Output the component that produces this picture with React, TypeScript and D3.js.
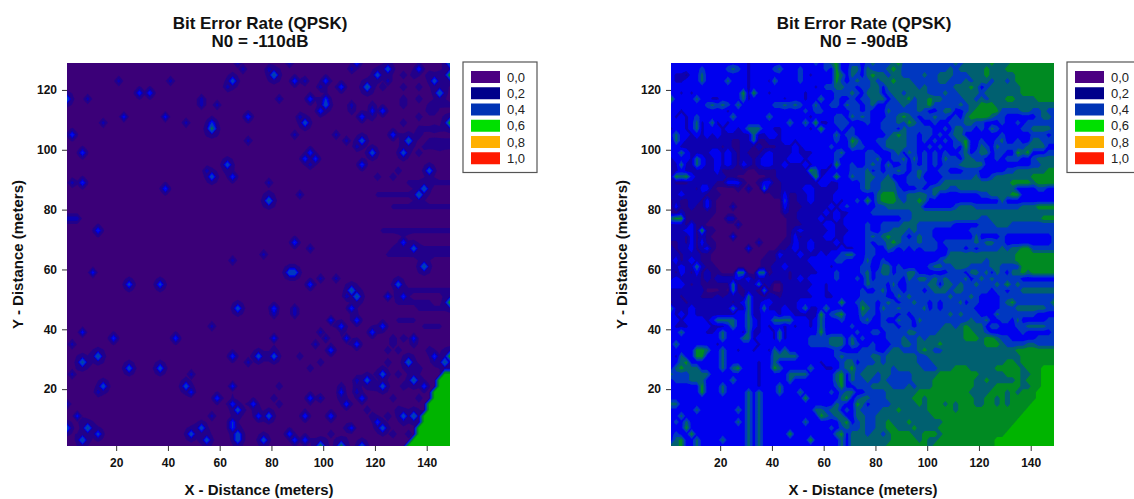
import React, { useEffect, useRef } from 'react';
import * as d3 from 'd3';

// legend
const legendLabels = ['0,0', '0,2', '0,4', '0,6', '0,8', '1,0'];
const legendColors = ['#4b0082', '#00008b', '#0033b4', '#00e000', '#ffb000', '#ff1a00'];

// colours of the filled bands in the maps, low to high
const bandColors = ['#3a0078', '#24008a', '#0a00b0', '#0000ee', '#0038c0', '#006070', '#008a22', '#00b400'];
const thresholds110 = [0.2, 0.7, 1.2, 1.8, 3.5, 4.5, 6.5];
const thresholds90 = [0.3, 1.3, 2.3, 3.5, 4.5, 5.5, 6.5];

const xTicks = [20, 40, 60, 80, 100, 120, 140];
const yTicks = [20, 40, 60, 80, 100, 120];

// N0 = -90dB: band, every 2 m, from y = 129 down to y = 1
const rows90 = [
  '33333 33333 33333 23333 33333 33343 45633 44345 44456 44444 44444 54555 55655 56666 66666',
  '33333 34333 34543 23333 45333 43333 43633 55354 44565 44444 44445 45555 56555 66666 66666',
  '32213 35333 33333 23333 33333 43233 33653 54356 55455 44445 44555 44455 56555 55666 66666',
  '32233 35333 35333 23332 53333 43333 33643 45445 45565 55444 44554 44545 55455 45666 66666',
  '33333 33333 33333 23333 33333 33323 44554 43445 53555 55545 44444 55565 34555 55566 66666',
  '33232 33333 33336 26332 33333 32333 33444 54355 53455 45555 44454 45555 45555 55566 66666',
  '63333 53322 33335 23333 33233 32335 33433 43445 55345 56455 65544 44554 54555 66555 56666',
  '33333 33454 54353 33333 44545 43353 34435 44345 33444 54455 64444 45455 66655 55555 55555',
  '33233 33333 32333 33333 33333 34344 33333 44343 33544 44454 33455 33456 66664 44455 44544',
  '32323 43333 33533 33335 33333 33233 33443 54543 33445 65434 45443 43566 66544 33333 34554',
  '33323 52352 32333 33333 33353 35362 23444 33343 34445 46543 34334 44554 43334 33434 44444',
  '23323 52333 23323 55533 22333 33236 33343 43333 34443 54444 43343 55443 43543 33344 55554',
  '35332 32323 22222 25223 32333 33333 33534 43333 33456 54434 43434 55333 33334 33333 44434',
  '25322 22222 22112 25112 22332 33333 33433 65333 44555 54434 34343 45633 43345 33433 55444',
  '33222 22222 12112 21211 12223 23333 34333 54433 34555 54433 43433 43633 54354 44445 55533',
  '33532 22233 23212 11123 22223 22233 33453 33344 33345 35434 34343 34534 55344 33656 33344',
  '23332 53223 23212 21233 22233 32333 33433 33344 53344 53534 34354 43554 43343 44433 45555',
  '22522 53223 23213 21233 22322 23233 32633 43345 43533 43434 34344 45555 53333 33333 44555',
  '22322 22223 11111 00111 12222 22652 23333 44453 43445 43454 33443 33444 33333 44555 55566',
  '26563 22222 21100 00001 12222 22262 33633 54455 44533 34453 33344 44445 33455 55555 66666',
  '21112 22221 13331 00133 11222 22223 32233 33454 45553 34444 33455 55555 55555 56666 56666',
  '22222 13310 00010 20051 11222 23322 22233 33454 45554 33343 45554 45555 55555 55333 34433',
  '22322 22111 00000 00000 11311 22322 22333 33333 56664 45555 45333 33333 44555 56633 33333',
  '12112 21310 00000 00000 00411 22322 22323 34363 56665 45565 33333 33333 33335 33333 33333',
  '13112 11310 00200 00000 00311 12222 23234 33333 44555 55553 33333 45554 44444 44455 56666',
  '11211 11110 00000 00000 00211 22222 32322 33334 44444 44555 55555 55555 55555 55555 55555',
  '56611 11100 02200 00000 00011 22223 22323 33333 33333 44555 55555 55555 44555 55555 55666',
  '22213 11000 00020 00000 00011 12222 33223 33343 34444 55544 44444 33333 44455 54444 44444',
  '22233 16110 00000 00000 00012 32222 23222 33343 34455 54544 43333 33344 44444 44444 44444',
  '22213 12100 00300 00000 00013 12222 33223 33345 45655 43454 43333 33335 33334 33333 33334',
  '11213 13110 00000 00200 00113 22322 22323 33343 44565 44454 44344 44445 45544 33333 33334',
  '21223 12310 00000 30000 01123 22322 22232 23344 33543 43434 44334 44343 44445 45566 44444',
  '22122 21100 00000 00001 13222 32223 23345 53344 33333 33333 33335 55555 55555 55666 66666',
  '23123 21100 00000 00011 12222 22333 33443 33353 34333 33333 33455 55555 54555 55666 66666',
  '22322 52110 00000 00011 22322 22233 32333 33443 35534 33333 45544 55544 44554 44466 66666',
  '21321 31211 00055 00550 22212 22223 33433 33453 45534 45533 33334 44355 45354 35565 66666',
  '23222 21212 22232 31222 22212 32333 33433 34353 44444 35455 45454 44534 54544 44433 33333',
  '33321 21111 11512 22512 00222 22233 23333 33354 44353 34444 55355 45445 44454 64544 44444',
  '22222 22000 10511 22051 00222 22333 23333 33433 45344 34443 45554 55444 44344 34455 55555',
  '22122 21112 12221 52212 21222 22233 22333 33444 44335 45444 44445 44454 33334 44444 44444',
  '12212 22222 22123 52233 22222 33333 33363 34544 34543 44544 34344 45344 33334 56444 44446',
  '52223 22222 22522 52252 22322 35223 53333 33654 35445 44445 34344 44443 33334 44555 55544',
  '32323 22222 22233 52233 32332 22226 34563 33544 34443 43444 44445 45444 33354 44444 43333',
  '33233 33235 55533 53233 55553 33235 33343 33453 34335 44354 44444 44454 45334 43533 33344',
  '32223 33322 23533 53232 33232 33235 33333 43333 34443 44344 44455 45655 53443 33445 55544',
  '33533 33223 53332 52233 25233 33336 33333 34334 43444 45544 44555 55665 54333 33343 33334',
  '33333 33333 53335 52333 25233 33444 45553 53433 33444 54454 55555 55666 56654 43333 34444',
  '35333 33332 33333 33233 33333 33444 45553 54334 33344 55455 55655 55555 56665 44445 54444',
  '33333 66533 53323 32332 53533 33333 33433 33444 33455 44456 54455 55555 55555 55666 66666',
  '32533 66333 53333 33333 55555 33333 33454 44445 54555 55544 55555 55555 55555 55566 66666',
  '33563 33333 53333 33233 53333 33332 33345 53444 54555 55544 45555 55555 55555 66566 66666',
  '35655 53333 53563 33233 65333 33533 22345 64455 55545 55554 44555 66655 55566 66656 66777',
  '54445 55533 33333 33233 33355 55333 33563 54555 45544 44555 55666 66666 55555 66655 66777',
  '34445 55333 33533 33233 33353 33333 33563 54454 45444 44555 56666 66665 56555 55656 66777',
  '33333 36333 53333 33233 35333 33333 33463 34445 55544 45455 56666 66665 55566 66655 66777',
  '33333 36333 53333 53533 35333 53333 34345 53344 44555 55566 66666 66655 55666 56566 67777',
  '33333 33333 33333 53533 33333 36333 33356 34554 44555 55665 66666 66665 56656 56666 67777',
  '55333 33333 33333 53533 33333 33333 33543 36534 44455 55565 66656 56665 56656 56666 77777',
  '33333 53333 33353 53533 33333 33355 45534 35444 45556 55555 66666 56666 66666 66667 77777',
  '33533 33333 33333 53533 33333 33336 54553 35544 55555 55555 56666 66666 66666 66677 77777',
  '34353 33333 33353 53533 33333 35333 33356 34544 55655 56555 55566 66666 66666 66777 77777',
  '33363 33333 33333 53533 33333 33333 34345 44544 55665 55655 55666 66666 66666 67777 77777',
  '34336 33333 33333 53533 33363 33333 33563 55545 54566 66556 66566 66666 66666 77777 77777',
  '35633 53333 53333 53533 33333 33633 33353 55555 55566 66656 55666 66666 66677 77777 77777',
  '55633 53333 33333 53533 33333 33333 33353 55555 55666 66666 56666 66666 66677 77777 77777',
];

// N0 = -110dB: isolated spots [x, y, band] on the 2 m grid
const spots110: [number, number, number][] = [
  [1, 117, 3], [9, 117, 1], [21, 123, 1], [29, 119, 2], [33, 119, 2], [41, 123, 1], [23, 111, 1.6], [15, 109, 1],
  [39, 111, 1.6], [47, 109, 1], [3, 105, 2], [7, 99, 2], [7, 89, 2], [3, 89, 1], [39, 87, 2], [13, 73, 2],
  [1, 77, 1], [3, 77, 1], [5, 77, 1], [57, 107, 5], [57, 109, 2], [65, 123, 3], [63, 121, 1], [69, 127, 1],
  [67, 129, 1], [81, 125, 4], [79, 127, 1], [71, 111, 2], [59, 115, 1], [53, 117, 1], [53, 115, 1], [63, 95, 3],
  [57, 91, 3], [55, 93, 1], [65, 91, 2], [79, 89, 1], [79, 83, 4], [71, 103, 1], [89, 105, 1], [89, 123, 2],
  [93, 123, 1], [87, 129, 1], [83, 117, 1], [95, 117, 2], [101, 123, 2], [99, 121, 1], [101, 117, 2], [101, 115, 3],
  [99, 113, 2], [93, 109, 3], [91, 111, 1], [107, 121, 2], [111, 115, 1], [115, 111, 2], [119, 113, 1.6], [123, 113, 2],
  [117, 121, 4], [111, 127, 1], [113, 129, 2], [121, 125, 3], [125, 127, 3], [125, 123, 1], [137, 127, 2], [145, 119, 4],
  [143, 123, 3], [149, 125, 6], [149, 129, 4], [149, 109, 6], [133, 103, 4], [127, 105, 2], [131, 99, 3], [119, 99, 3],
  [115, 103, 3], [113, 101, 1], [109, 103, 1], [105, 105, 1], [95, 99, 2], [93, 97, 2], [97, 97, 2], [95, 95, 1],
  [115, 95, 2], [141, 93, 3], [139, 87, 3.6], [137, 85, 4], [91, 85, 1], [89, 69, 2], [131, 69, 2], [135, 67, 3],
  [77, 65, 1], [95, 67, 1], [11, 59, 1.6], [25, 55, 2.5], [37, 55, 2.5], [65, 63, 1], [89, 59, 3], [87, 59, 3],
  [95, 55, 2], [99, 57, 1], [105, 57, 1], [111, 53, 4], [113, 51, 4], [109, 51, 1], [129, 55, 3], [131, 51, 2],
  [139, 61, 4], [149, 49, 6], [125, 51, 1.6], [67, 47, 3], [81, 47, 2], [81, 45, 1], [111, 47, 2], [89, 47, 1],
  [89, 45, 1], [103, 43, 1.6], [113, 43, 2], [107, 41, 2], [123, 41, 2], [119, 39, 2], [57, 41, 1], [7, 39, 1.6],
  [19, 37, 2], [43, 37, 2], [81, 37, 1.6], [99, 39, 1], [101, 37, 1], [109, 37, 1.6], [113, 35, 2], [103, 33, 2],
  [97, 35, 1], [135, 37, 1.6], [143, 31, 2], [147, 29, 4], [149, 31, 6], [133, 29, 4], [123, 25, 3], [135, 23, 4],
  [117, 23, 3], [123, 21, 3], [139, 21, 2], [113, 23, 1], [113, 19, 1], [107, 19, 1.6], [115, 17, 2], [109, 15, 2],
  [95, 17, 2], [99, 17, 1], [93, 11, 2], [103, 11, 2], [111, 7, 1.6], [121, 9, 2], [123, 7, 3], [131, 11, 3],
  [135, 11, 4], [99, 1, 5], [107, 1, 5], [115, 1, 3], [87, 5, 2], [89, 3, 2], [93, 3, 2], [79, 11, 3],
  [75, 31, 3], [81, 31, 3], [65, 31, 2], [71, 29, 1], [73, 15, 2], [75, 11, 2], [65, 15, 2], [67, 13, 3],
  [65, 9, 2], [65, 7, 2], [67, 5, 3], [67, 3, 3], [77, 3, 3], [59, 17, 2], [65, 21, 1.6], [57, 11, 1],
  [47, 21, 3], [49, 19, 1.6], [53, 7, 3], [49, 5, 3], [55, 3, 3], [37, 27, 3], [25, 27, 3], [13, 31, 4],
  [7, 29, 4], [15, 21, 3], [13, 19, 1], [5, 11, 1.6], [9, 7, 4], [13, 5, 2.5], [7, 3, 3.6], [1, 7, 3],
  [1, 15, 1], [3, 25, 1], [3, 35, 1], [49, 25, 1],
];

// N0 = -110dB: very faint spots, mostly towards the right of the map
const dimSpots110: [number, number][] = [
  [119, 39], [127, 37], [131, 37], [135, 35], [141, 33], [113, 23], [113, 21], [107, 21], [107, 17], [109, 15],
  [119, 21], [119, 11], [121, 7], [131, 9], [137, 17], [139, 21], [137, 27], [143, 29], [127, 35], [97, 35],
  [99, 29], [95, 27], [91, 31], [83, 21], [81, 17], [83, 15], [95, 17], [99, 17], [93, 11], [103, 11],
  [109, 7], [111, 7], [103, 5], [87, 5], [131, 125], [135, 125], [131, 121], [137, 121], [131, 117], [137, 117],
  [119, 115], [119, 111], [111, 113], [123, 121], [131, 115], [137, 111], [131, 109], [143, 113], [143, 107], [137, 105],
  [145, 101], [137, 99], [129, 93], [121, 91], [127, 91], [141, 125], [145, 125], [147, 121], [141, 113], [129, 33],
  [125, 29], [125, 33], [129, 25], [131, 21], [127, 17], [129, 13], [125, 11], [127, 5], [133, 5], [117, 13],
];

// N0 = -110dB: faint horizontal streaks near the right edge [y, x from, x to]
const streaks110: [number, number, number][] = [
  [115, 141, 149], [107, 137, 149], [103, 141, 149], [101, 139, 149], [89, 133, 149], [85, 121, 135], [81, 127, 149],
  [73, 123, 149], [67, 127, 149], [65, 125, 149], [53, 133, 149], [49, 129, 141], [47, 137, 145], [43, 129, 135], [41, 139, 145],
];

// N0 = -110dB: bright corner, first x of the band at each y
const cornerY = [1, 3, 5, 7, 9, 11, 13, 15, 17, 19, 21, 23, 25];
const cornerX = [133, 135, 137, 137, 139, 139, 141, 141, 143, 143, 145, 145, 147];

const grid110 = () => {
  const cols = 75;
  const rows = 65;
  const values = new Array(cols * rows).fill(0);
  const set = (x: number, y: number, v: number) => {
    const col = (x - 1) / 2;
    const row = (129 - y) / 2;
    if (col < 0 || col >= cols || row < 0 || row >= rows) return;
    values[row * cols + col] = Math.max(values[row * cols + col], v);
  };
  // a spot shows a small skirt on the cells next to it, which rounds it off
  const spot = (x: number, y: number, v: number) => {
    set(x, y, v);
    [[2, 0], [-2, 0], [0, 2], [0, -2]].forEach(([dx, dy]) => set(x + dx, y + dy, v * 0.12));
    [[2, 2], [-2, 2], [2, -2], [-2, -2]].forEach(([dx, dy]) => set(x + dx, y + dy, v * 0.06));
  };
  streaks110.forEach(([y, x0, x1]) => {
    for (let x = x0; x <= x1; x += 2) set(x, y, 0.35);
  });
  dimSpots110.forEach(([x, y]) => spot(x, y, 0.6));
  spots110.forEach(([x, y, v]) => spot(x, y, v));
  cornerY.forEach((y, k) => {
    for (let x = cornerX[k]; x <= 149; x += 2) set(x, y, 7);
  });
  return { values, cols, rows };
};

const grid90 = () => {
  const cells = rows90.map(row => row.replace(/ /g, '').split('').map(Number));
  return { values: cells.flat(), cols: cells[0].length, rows: cells.length };
};

const FONT = '"Liberation Sans", Arial, sans-serif';

const drawPanel = (svgEl: SVGSVGElement, id: string, left: number, title: string, grid: any, thresholds: number[]) => {
  const plotW = 383;
  const top = 63;
  const plotH = 383;
  const step = 2;

  const x = d3.scaleLinear().domain([1, 149]).range([left, left + plotW]);
  const y = d3.scaleLinear().domain([1, 129]).range([top + plotH, top]);

  const svg = d3.select(svgEl);
  const g = svg.append('g');

  g.append('clipPath').attr('id', id).append('rect')
    .attr('x', left).attr('y', top).attr('width', plotW).attr('height', plotH);

  // the picture is a soft raster, so the bands get a slight blur
  g.append('filter').attr('id', `${id}-soft`)
    .append('feGaussianBlur').attr('stdDeviation', 0.7);

  const clipped = g.append('g').attr('clip-path', `url(#${id})`);
  const map = clipped.append('g').attr('filter', `url(#${id}-soft)`);
  map.append('rect')
    .attr('x', left - 10).attr('y', top - 10).attr('width', plotW + 20).attr('height', plotH + 20)
    .attr('fill', bandColors[0]);

  const contours = d3.contours().size([grid.cols, grid.rows]).thresholds(thresholds)(grid.values);
  const project = d3.geoTransform({
    point(cx: number, cy: number) {
      (this as any).stream.point(x(1 + (cx - 0.5) * step), y(129 - (cy - 0.5) * step));
    },
  });
  const path = d3.geoPath(project);

  map.selectAll('path')
    .data(contours)
    .enter()
    .append('path')
    .attr('d', (d: any) => path(d))
    .attr('fill', (d: any, i: number) => bandColors[i + 1])
    .attr('fill-rule', 'evenodd');

  const xAxis = g.append('g')
    .attr('transform', `translate(0,${top + plotH})`)
    .call(d3.axisBottom(x).tickValues(xTicks).tickSize(5).tickPadding(7));
  const yAxis = g.append('g')
    .attr('transform', `translate(${left},0)`)
    .call(d3.axisLeft(y).tickValues(yTicks).tickSize(5).tickPadding(5));

  [xAxis, yAxis].forEach(axis => {
    axis.select('.domain').remove();
    axis.selectAll('line').attr('stroke', '#333');
    axis.selectAll('text')
      .attr('font-family', FONT)
      .attr('font-size', 12)
      .attr('font-weight', 'bold')
      .attr('fill', '#111');
  });

  const centre = left + plotW / 2 - 0.5;
  const label = (sel: any, size: number) => sel
    .attr('font-family', FONT)
    .attr('font-size', size)
    .attr('font-weight', 'bold')
    .attr('fill', '#111')
    .attr('text-anchor', 'middle');

  label(g.append('text').attr('x', centre + 2).attr('y', 29).text('Bit Error Rate (QPSK)'), 17);
  label(g.append('text').attr('x', centre + 2).attr('y', 47).text(title), 17);
  label(g.append('text').attr('x', centre + 1).attr('y', 495).text('X - Distance (meters)'), 15);
  label(g.append('text')
    .attr('transform', `translate(${left - 44},${top + plotH / 2}) rotate(-90)`)
    .text('Y - Distance (meters)'), 15);

  // legend box, the right one runs off the page
  const legendX = left + plotW + 13;
  g.append('rect')
    .attr('x', legendX).attr('y', 62).attr('width', 74).attr('height', 110.5)
    .attr('fill', '#fff').attr('stroke', '#555').attr('stroke-width', 1.2);

  legendLabels.forEach((text, i) => {
    g.append('rect')
      .attr('x', legendX + 8).attr('y', 71 + i * 16.25)
      .attr('width', 29).attr('height', 12)
      .attr('fill', legendColors[i]);
    g.append('text')
      .attr('x', legendX + 44).attr('y', 81.5 + i * 16.25)
      .attr('font-family', FONT).attr('font-size', 13).attr('fill', '#222')
      .text(text);
  });
};

const App = () => {
  const ref = useRef<SVGSVGElement>(null);

  useEffect(() => {
    if (!ref.current) return;
    d3.select(ref.current).selectAll('*').remove();
    drawPanel(ref.current, 'clip-110', 67, 'N0 = -110dB', grid110(), thresholds110);
    drawPanel(ref.current, 'clip-90', 671, 'N0 = -90dB', grid90(), thresholds90);
  }, []);

  return (
    <svg
      ref={ref}
      width={1134}
      height={499}
      style={{ position: 'absolute', left: 0, top: 0, background: '#fff' }}
    />
  );
};

export default App;
